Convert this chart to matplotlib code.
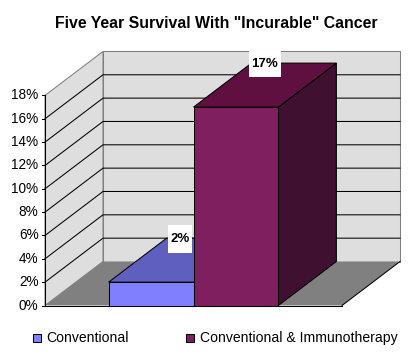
import matplotlib
matplotlib.use('Agg')
import matplotlib.pyplot as plt
from matplotlib.patches import Polygon, Rectangle

plt.rcParams['font.family'] = ['Liberation Sans', 'DejaVu Sans']

series = ['Conventional', 'Conventional & Immunotherapy']
values = [2, 17]
y_ticks = [0, 2, 4, 6, 8, 10, 12, 14, 16, 18]
title = 'Five Year Survival With "Incurable" Cancer'

front_colors = ['#8080FF', '#7F1F5F']
top_colors = ['#5F5FBF', '#5F1040']
side_colors = ['#404080', '#3F102F']

W, H = 415, 356
PX_X = 84.86    # pixels per bar width
PX_Y = 11.67    # pixels per percent
X0, Y0 = 45, 305.5
DX = 58 / PX_X  # depth offset in data units
DY = 44 / PX_Y
GAP = 0.75
BAR_W = 1.0
FLOOR_W = GAP * 2 + BAR_W * len(values)
Y_MAX = max(y_ticks)
LINE = 0.75     # about one pixel


def poly(ax, pts, fc, ec='black', lw=LINE, z=1):
    ax.add_patch(Polygon(pts, closed=True, facecolor=fc, edgecolor=ec, linewidth=lw, zorder=z))


def px_x(p):
    return (p - X0) / PX_X


def px_y(p):
    return (Y0 - p) / PX_Y


fig = plt.figure(figsize=(W / 100, H / 100), dpi=100)
ax = fig.add_axes([0, 0, 1, 1])
ax.set_xlim(px_x(0), px_x(W))
ax.set_ylim(px_y(H), px_y(0))
ax.axis('off')

# walls and floor
poly(ax, [(0, 0), (DX, DY), (DX, Y_MAX + DY), (0, Y_MAX)], '#DEDEDE', ec='#808080', z=1)
poly(ax, [(DX, DY), (FLOOR_W + DX, DY), (FLOOR_W + DX, Y_MAX + DY), (DX, Y_MAX + DY)], '#DEDEDE', ec='#808080', z=1)
poly(ax, [(0, 0), (DX, DY), (FLOOR_W + DX, DY), (FLOOR_W, 0)], '#808080', ec='none', lw=0, z=2)
ax.plot([FLOOR_W, FLOOR_W + DX], [0, DY], color='black', lw=LINE, zorder=2)

# gridlines, skipping 0% and the top edge
for t in y_ticks[1:-1]:
    ax.plot([0, DX, FLOOR_W + DX], [t, t + DY, t + DY], color='black', lw=LINE, zorder=3)

# axis line and ticks
ax.plot([0, 0], [0, Y_MAX], color='black', lw=LINE, zorder=4)
ax.plot([0, FLOOR_W], [0, 0], color='black', lw=LINE, zorder=4)
for t in y_ticks:
    ax.plot([px_x(42), 0], [t, t], color='black', lw=LINE, zorder=4)
    ax.text(px_x(38.5), t, f'{t}%', ha='right', va='center', fontsize=9.8, color='black')

# bars
label_box_px = [(24, 28), (32, 26)]
x = GAP
for i, v in enumerate(values):
    z = 5 + i
    poly(ax, [(x + BAR_W, 0), (x + BAR_W + DX, DY), (x + BAR_W + DX, v + DY), (x + BAR_W, v)], side_colors[i], z=z)
    poly(ax, [(x, v), (x + DX, v + DY), (x + BAR_W + DX, v + DY), (x + BAR_W, v)], top_colors[i], z=z)
    poly(ax, [(x, 0), (x + BAR_W, 0), (x + BAR_W, v), (x, v)], front_colors[i], z=z)
    # value label in a white box, centred on the top face
    cx = x + BAR_W / 2 + DX / 2
    cy = v + DY - 0.1
    bw = label_box_px[i][0] / PX_X
    bh = label_box_px[i][1] / PX_Y
    ax.add_patch(Rectangle((cx - bw / 2, cy - bh / 2), bw, bh, facecolor='white', edgecolor='none', zorder=8))
    ax.text(cx, cy, f'{v}%', ha='center', va='center', fontsize=9.5, fontweight='bold', color='black', zorder=9)
    x += BAR_W

# title
ax.text(px_x(216), px_y(23), title, ha='center', va='center', fontsize=11.4, fontweight='bold', color='black')

# legend
legend_swatch_px = [33, 186]
legend_text_px = [46, 200]
for i, name in enumerate(series):
    ax.add_patch(Rectangle((px_x(legend_swatch_px[i]), px_y(342)), 8 / PX_X, 8 / PX_Y,
                           facecolor=front_colors[i], edgecolor='black', linewidth=LINE, zorder=4))
    ax.text(px_x(legend_text_px[i]), px_y(342), name, ha='left', va='baseline', fontsize=10.1, color='black')

fig.savefig('out.png', dpi=100, facecolor='white')
